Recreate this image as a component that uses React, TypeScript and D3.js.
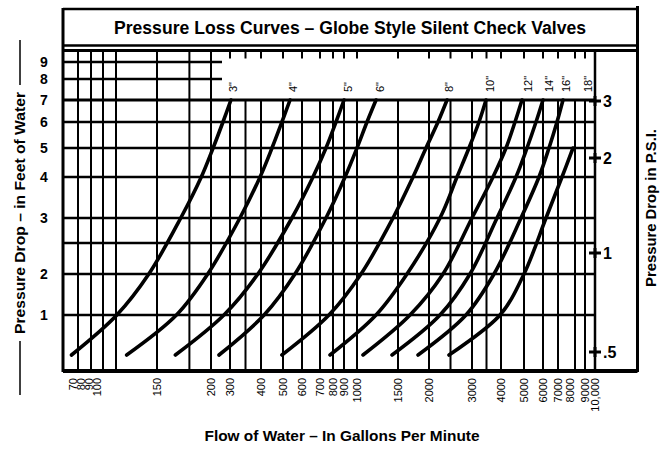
import React from "react";
import * as d3 from "d3";

// ---------- data ----------
const flowTicks = [70, 80, 90, 100, 150, 200, 300, 400, 500, 600, 700, 800, 900, 1000, 1500, 2000, 3000, 4000, 5000, 6000, 7000, 8000, 9000, 10000];
const flowTickLabels = ["70", "80", "90", "100", "150", "200", "300", "400", "500", "600", "700", "800", "900", "1000", "1500", "2000", "3000", "4000", "5000", "6000", "7000", "8000", "9000", "10,000"];
const flowExtraGrid = [180, 350, 2500, 3500];
const feetTicks = [1, 2, 3, 4, 5, 6, 7, 8, 9];
const feetExtraGrid = [2.5];
const psiTicks = [0.5, 1, 2, 3];
const psiTickLabels = [".5", "1", "2", "3"];
const valveSizes = ['3"', '4"', '5"', '6"', '8"', '10"', '12"', '14"', '16"', '18"'];
const sizeLabelFlow = [310, 553, 931, 1280, 2465, 3620, 5210, 6400, 7470, 9360];

// pressure drop (ft of water) levels at which each curve's flow (GPM) is read
const feetLevels = [0.5, 1, 2, 3, 4, 5, 6, 7];
const flow3in = [65, 101, 140, 172, 191, 211, 263, 303];
const flow4in = [113, 168, 197, 332, 397, 450, 495, 537];
const flow5in = [167, 268, 390, 547, 661, 746, 827, 900];
const flow6in = [242, 414, 563, 746, 908, 1000, 1122, 1232];
const flow8in = [495, 769, 1049, 1439, 1742, 1952, 2209, 2419];
const flow10in = [777, 1232, 1645, 2256, 2651, 2930, 3241, 3483];
const flow12in = [1073, 1694, 2326, 3000, 3724, 4217, 4609, 4913];
const flow14in = [1427, 2256, 2953, 3862, 4652, 5158, 5632, 6000];
const flow16in = [1823, 2860, 3759, 4870, 5789, 6400, 6933, 7294];
const flow18in = [2465, 3966, 5000, 6200, 7235, 7882];

const curves = [flow3in, flow4in, flow5in, flow6in, flow8in, flow10in, flow12in, flow14in, flow16in, flow18in];

// ---------- layout ----------
const W = 663;
const H = 450;
const FRAME_L = 63;
const FRAME_R = 637.5;
const TITLE_TOP = 9;
const TITLE_BOT = 45.5;
const GRID_TOP = 50.5;
const GRID_BOT = 370;
const GRID_R = 595;
const LEFT_ZONE_R = 222;
// pixel stops of the (hand drawn) flow axis, matching flowTicks
const X_PX = [78, 91, 103, 116, 157, 211, 230, 261, 283, 302, 320, 333, 344, 357, 398, 429, 472, 501, 524, 543, 558, 575, 585, 595];
const Y_FEET_STOPS = [0.4, 0.5, 1, 2, 2.5, 3, 4, 5, 6, 7, 8, 9, 10];
const Y_PX = [370, 355, 315, 274, 243, 218, 177, 148, 122, 100, 79, 62, 51];
const PSI_PX = [352, 253, 158, 101];
const LABEL_NUDGE: Record<number, number> = { 70: -5, 80: -10, 90: -14, 100: -19, 8000: -5 };

const FONT = "'Liberation Sans Narrow', 'Liberation Sans', Arial, sans-serif";
const TICK_FONT = "'Liberation Sans', Arial, sans-serif";

export default function App() {
  const x = d3.scaleLinear().domain(flowTicks).range(X_PX);
  const y = d3.scaleLinear().domain(Y_FEET_STOPS).range(Y_PX);
  const yPsi = d3.scaleLinear().domain(psiTicks).range(PSI_PX);

  const line = d3
    .line<[number, number]>()
    .x((d) => x(d[0]))
    .y((d) => y(d[1]))
    .curve(d3.curveCatmullRom.alpha(0.5));

  const gridFlows = [...flowTicks, ...flowExtraGrid].filter((v) => v < 10000);
  const topY = y(7);

  return (
    <svg width={W} height={H} style={{ display: "block", position: "absolute", left: 0, top: 0, background: "#fff" }}>
      <rect x={0} y={0} width={W} height={H} fill="#fff" />
      {/* vertical grid */}
      {gridFlows.map((v) => {
        const px = x(v);
        const left = px < LEFT_ZONE_R;
        return (
          <g key={"v" + v}>
            <line x1={px} x2={px} y1={left ? GRID_TOP : topY} y2={GRID_BOT} stroke="#000" strokeWidth={2} />
            {!left && <line x1={px} x2={px} y1={GRID_TOP} y2={GRID_TOP + 8} stroke="#000" strokeWidth={2} />}
          </g>
        );
      })}
      {/* right grid edge */}
      <line x1={GRID_R} x2={GRID_R} y1={GRID_TOP} y2={GRID_BOT} stroke="#000" strokeWidth={2.5} />
      {/* horizontal grid */}
      {[...feetTicks, ...feetExtraGrid].map((v) => {
        const py = y(v);
        const xr = v > 7 ? LEFT_ZONE_R : GRID_R;
        return <line key={"h" + v} x1={FRAME_L} x2={xr} y1={py} y2={py} stroke="#000" strokeWidth={v === 7 ? 3 : 2.6} />;
      })}
      {/* curves */}
      {curves.map((c, i) => (
        <path
          key={"c" + i}
          d={line(c.map((f, j) => [f, feetLevels[j]] as [number, number])) || ""}
          fill="none"
          stroke="#000"
          strokeWidth={3.6}
          strokeLinecap="round"
        />
      ))}
      {/* frame */}
      <line x1={FRAME_L} x2={FRAME_L} y1={TITLE_TOP - 1} y2={GRID_BOT + 2} stroke="#000" strokeWidth={3} />
      <line x1={FRAME_R} x2={FRAME_R} y1={TITLE_TOP - 3} y2={GRID_BOT + 2} stroke="#000" strokeWidth={3} />
      <line x1={FRAME_L} x2={FRAME_R} y1={TITLE_TOP} y2={TITLE_TOP} stroke="#000" strokeWidth={2.5} />
      <line x1={FRAME_L} x2={FRAME_R} y1={TITLE_BOT} y2={TITLE_BOT} stroke="#000" strokeWidth={2.5} />
      <line x1={FRAME_L} x2={FRAME_R} y1={GRID_TOP} y2={GRID_TOP} stroke="#000" strokeWidth={3} />
      <line x1={FRAME_L} x2={FRAME_R} y1={GRID_BOT + 1} y2={GRID_BOT + 1} stroke="#000" strokeWidth={4} />

      {/* title */}
      <text x={350} y={34} textAnchor="middle" fontFamily={FONT} fontWeight="bold" fontSize={18} textLength={472} lengthAdjust="spacingAndGlyphs">
        Pressure Loss Curves – Globe Style Silent Check Valves
      </text>

      {/* feet tick labels */}
      {feetTicks.map((v) => (
        <text key={"ft" + v} x={44} y={y(v)} dy="0.36em" textAnchor="middle" fontFamily={FONT} fontWeight="bold" fontSize={14}>
          {v}
        </text>
      ))}

      {/* psi ticks */}
      {psiTicks.map((v, i) => (
        <g key={"psi" + v}>
          <line x1={GRID_R - 6} x2={GRID_R + 6} y1={yPsi(v)} y2={yPsi(v)} stroke="#000" strokeWidth={3} />
          <line x1={GRID_R} x2={GRID_R} y1={yPsi(v) - 5} y2={yPsi(v) + 5} stroke="#000" strokeWidth={3} />
          <text x={GRID_R + 8} y={yPsi(v)} dy="0.36em" fontFamily={FONT} fontWeight="bold" fontSize={16}>
            {psiTickLabels[i]}
          </text>
        </g>
      ))}

      {/* flow tick labels */}
      {flowTicks.map((v, i) => {
        const px = x(v) + (LABEL_NUDGE[v] || 0);
        return (
          <text
            key={"xl" + v}
            transform={`translate(${px},${GRID_BOT + 8}) rotate(-90)`}
            dy="0.35em"
            textAnchor="end"
            fontFamily={TICK_FONT}
            fontSize={11}
          >
            {flowTickLabels[i]}
          </text>
        );
      })}

      {/* valve size labels */}
      {valveSizes.map((s, i) => (
        <text
          key={"vs" + s}
          transform={`translate(${x(sizeLabelFlow[i])},${topY - 8}) rotate(-90)`}
          dy="0.35em"
          textAnchor="start"
          fontFamily={TICK_FONT}
          fontSize={11}
        >
          {s}
        </text>
      ))}

      {/* axis titles */}
      <text
        transform={`translate(20,213) rotate(-90)`}
        dy="0.35em"
        textAnchor="middle"
        fontFamily={FONT}
        fontWeight="bold"
        fontSize={15}
        textLength={242}
        lengthAdjust="spacingAndGlyphs"
      >
        Pressure Drop  – in Feet of Water
      </text>
      <line x1={20} x2={20} y1={40} y2={85} stroke="#000" strokeWidth={1.5} />
      <line x1={20} x2={20} y1={341} y2={395} stroke="#000" strokeWidth={1.5} />
      <text
        transform={`translate(651,208) rotate(-90)`}
        dy="0.35em"
        textAnchor="middle"
        fontFamily={FONT}
        fontWeight="bold"
        fontSize={15}
        textLength={158}
        lengthAdjust="spacingAndGlyphs"
      >
        Pressure Drop in P.S.I.
      </text>
      <text x={342} y={441} textAnchor="middle" fontFamily={FONT} fontWeight="bold" fontSize={15} textLength={275} lengthAdjust="spacingAndGlyphs">
        Flow of Water  – In Gallons Per Minute
      </text>
    </svg>
  );
}
